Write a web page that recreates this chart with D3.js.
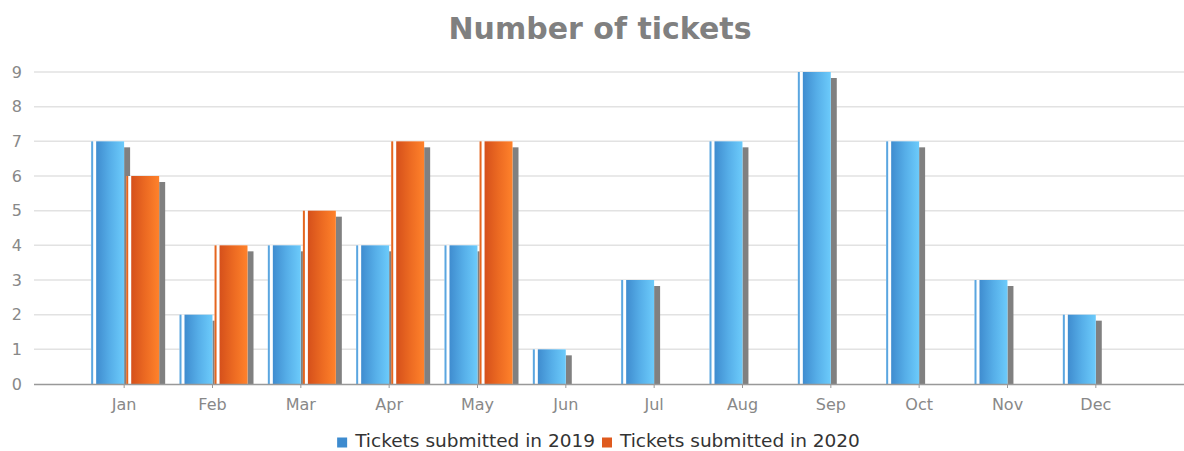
<!DOCTYPE html>
<html><head><meta charset="utf-8">
<script src="https://cdn.jsdelivr.net/npm/d3@7"></script>
<style>body{margin:0;background:#fff}svg{display:block}text{font-family:"DejaVu Sans",sans-serif}</style>
</head><body><svg id="c" width="1184" height="451"></svg>
<script>
const months = ["Jan","Feb","Mar","Apr","May","Jun","Jul","Aug","Sep","Oct","Nov","Dec"];
const seriesNames = ["Tickets submitted in 2019","Tickets submitted in 2020"];
const values2019 = [7,2,4,4,4,1,3,7,9,7,3,2];
const values2020 = [6,4,5,7,7,null,null,null,null,null,null,null];
const yTicks = [0,1,2,3,4,5,6,7,8,9];
const title = "Number of tickets";

(function(){
const svg = d3.select("#c");
const defs = svg.append("defs");
const grads = [
  {id:"g0", stops:["#3f8ccf","#56aee8","#6ccbfb"], stripe:"#5aa6e0", legend:"#3d8bcf"},
  {id:"g1", stops:["#d5501b","#ec6a22","#ff822b"], stripe:"#e5661f", legend:"#df5a1e"}
];
grads.forEach(g=>{
  const lg = defs.append("linearGradient").attr("id",g.id).attr("x1","0").attr("x2","1").attr("y1","0").attr("y2","0");
  g.stops.forEach((c,i)=>lg.append("stop").attr("offset",(i/(g.stops.length-1))).attr("stop-color",c));
});

const pLeft=34, pRight=1184, pTop=72, pBottom=384;
const y = d3.scaleLinear().domain([0,9]).range([pBottom, pTop]);
const x = d3.scaleBand().domain(months).range([80,1140]).padding(0);
const x1 = d3.scaleBand().domain([0,1]).range([-33,35]).paddingInner(0.06);

svg.append("text").attr("x",600).attr("y",39).attr("text-anchor","middle")
  .attr("font-size",30).attr("font-weight","bold").attr("fill","#808080").text(title);

svg.append("g").selectAll("line").data(yTicks.filter(d=>d>0)).join("line")
  .attr("x1",pLeft).attr("x2",pRight).attr("y1",d=>y(d)).attr("y2",d=>y(d))
  .attr("stroke","#e2e2e2").attr("stroke-width",1.5);

const ya = svg.append("g").attr("transform",`translate(${pLeft},0)`)
  .call(d3.axisLeft(y).tickValues(yTicks).tickSize(0).tickPadding(12));
ya.select(".domain").remove();
ya.selectAll("text").attr("font-size",16).attr("fill","#888").attr("font-family","DejaVu Sans");

const data = [values2019, values2020];
const g = svg.append("g");
months.forEach((m,i)=>{
  const c = x(m)+x.bandwidth()/2;
  data.forEach((vals,s)=>{
    const v = vals[i];
    if(v==null) return;
    const x0 = c + x1(s), w = x1.bandwidth();
    const yt = y(v), h = pBottom - yt;
    g.append("rect").attr("x",x0+6+5).attr("y",yt+6).attr("width",w-5).attr("height",Math.max(0,h-6)).attr("fill","#808080");
    g.append("rect").attr("x",x0).attr("y",yt).attr("width",w).attr("height",h).attr("fill","#fff");
    g.append("rect").attr("x",x0).attr("y",yt).attr("width",2).attr("height",h).attr("fill",grads[s].stripe);
    g.append("rect").attr("x",x0+5).attr("y",yt).attr("width",w-5).attr("height",h).attr("fill",`url(#${grads[s].id})`);
  });
});

const xa = svg.append("g").attr("transform",`translate(0,${pBottom})`)
  .call(d3.axisBottom(x).tickSize(4).tickPadding(11));
xa.select(".domain").attr("d",`M${pLeft},0.5H${pRight}`).attr("stroke","#999").attr("stroke-width",1.5);
xa.selectAll(".tick line").attr("stroke","#999");
xa.selectAll("text").attr("font-size",16).attr("fill","#888").attr("font-family","DejaVu Sans");

const leg = svg.append("g");
const items = seriesNames.map((n,s)=>{
  const t = leg.append("text").attr("y",447).attr("font-size",18.5).attr("fill","#333").text(n);
  return {t, s, w: t.node().getComputedTextLength()};
});
const total = items.reduce((a,it)=>a+10+8+it.w,0) + 7*(items.length-1);
let cx = 598.5 - total/2;
items.forEach(it=>{
  leg.append("rect").attr("x",cx).attr("y",437.5).attr("width",10).attr("height",10).attr("fill",grads[it.s].legend);
  it.t.attr("x",cx+18);
  cx += 18 + it.w + 7;
});
})();
</script></body></html>
